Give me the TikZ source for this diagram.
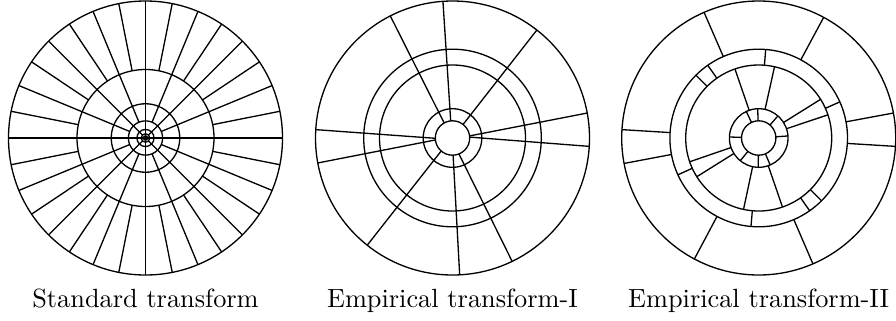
\documentclass[tikz,border=0pt]{standalone}
\usepackage{tikz}

\begin{document}
\begin{tikzpicture}[x=0.38pt, y=0.38pt,
  ring/.style={black, line width=0.5pt},
  cut/.style={black, line width=0.5pt},
  caption/.style={anchor=base, inner sep=0pt}]
  \useasboundingbox (0,0) rectangle (896,320);

  % standard transform: dyadic rings, wedges halve towards the centre
  \begin{scope}[shift={(145.5,182)}]
    \foreach \r in {137,68.5,34.25,17.13,8.56,4.28,2.14}
      \draw[ring] (0,0) circle (\r);
    \foreach \a in {0,11.25,...,350} \draw[cut] (\a:68.5) -- (\a:137);
    \foreach \a in {0,22.5,...,350} \draw[cut] (\a:17.13) -- (\a:68.5);
    \foreach \a in {0,45,...,350} \draw[cut] (\a:4.28) -- (\a:17.13);
    \foreach \a in {0,90,...,350} \draw[cut] (0,0) -- (\a:4.28);
  \end{scope}

  % empirical transform-I: same angular cuts through all rings
  \begin{scope}[shift={(452.5,182)}]
    \foreach \r in {137,88.8,73,29.3,17.2}
      \draw[ring] (0,0) circle (\r);
    % angle on the rim / angle on the inner circle
    \foreach \ao/\ai in {117/119, 94/96, 52/52, 10.5/7, -3.5/3,
                         176.5/181, 190.5/186.5, 231.5/229, 273/272, 295.8/292}
      \draw[cut] (\ao:137) -- (\ai:17.2);
  \end{scope}

  % empirical transform-II: each ring has its own cuts
  \begin{scope}[shift={(758.7,182)}]
    \foreach \r in {137,88.8,73,29.3,17.2}
      \draw[ring] (0,0) circle (\r);
    \foreach \a in {4,49,92,115,178,231,269,293} \draw[cut] (\a:17.2) -- (\a:29.3);
    \foreach \a in {18.5,32,77.5,109,199,212,258,289} \draw[cut] (\a:29.3) -- (\a:73);
    \foreach \a in {24,85.5,125,135,204.5,265,305,315} \draw[cut] (\a:73) -- (\a:88.8);
    \foreach \a in {-3.5,10.5,61.7,113.5,176.5,190.7,242,293.3} \draw[cut] (\a:88.8) -- (\a:137);
  \end{scope}

  % ---- captions ----
  \node[caption] (capstd) at (145.5,12.3) {Standard transform};
  \node[caption] (capewi) at (452.5,12.3) {Empirical transform-I};
  \node[caption] (capewii) at (758.7,12.3) {Empirical transform-II};
\end{tikzpicture}
\end{document}
